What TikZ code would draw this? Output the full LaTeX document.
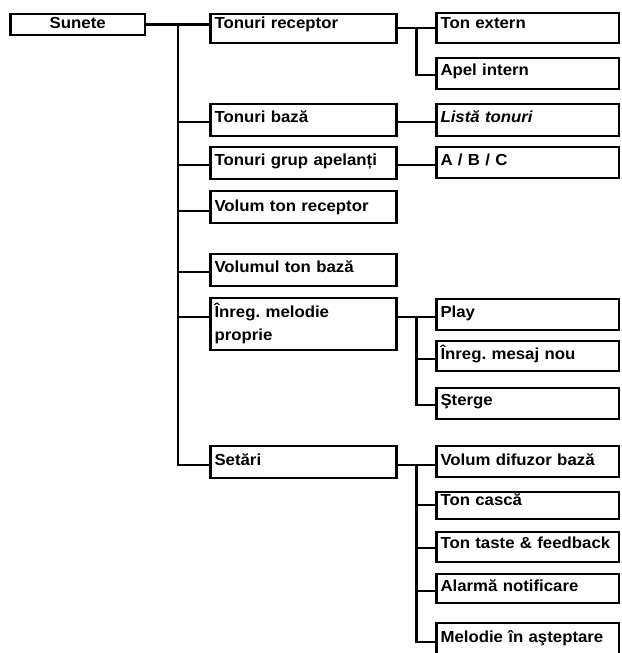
\documentclass[tikz,border=0pt]{standalone}
\usepackage{fontspec}
\setmainfont{Liberation Sans}[FakeStretch=1.05]
\usetikzlibrary{calc}
\frenchspacing

\begin{document}
\begin{tikzpicture}[x=1pt, y=-1pt, line width=2.4pt,
    box/.style={draw, rectangle, anchor=base west, outer sep=0pt,
        inner xsep=4pt, inner ysep=0pt, align=left,
        font=\fontsize{16}{23}\selectfont\bfseries},
    mid/.style={box, text width=178pt},
    leaf/.style={box, text width=174.5pt}]
    \fill[white] (0,0) rectangle (621,653);
    \useasboundingbox (0,0) rectangle (621,653);

    % root
    \node[box, minimum width=134.5pt, align=center, text height=14pt, text depth=7pt] (sunete) at (10.5,28) {Sunete};

    % second column
    \node[mid, text height=14pt, text depth=15pt] (receptor) at (210.5,28) {Tonuri receptor};
    \node[mid, text height=18pt, text depth=14pt] (baza) at (210.5,122) {Tonuri bază};
    \node[mid, text height=18pt, text depth=14pt] (grup) at (210.5,165) {Tonuri grup apelanți};
    \node[mid, text height=20pt, text depth=12pt] (volrec) at (210.5,211) {Volum ton receptor};
    \node[mid, text height=18pt, text depth=14pt] (volbaza) at (210.5,272) {Volumul ton bază};
    \node[mid, text height=19pt, text depth=33pt] (inreg) at (210.5,317) {Înreg. melodie\\proprie};
    \node[mid, text height=19pt, text depth=13pt] (setari) at (210.5,465) {Setări};

    % third column
    \node[leaf, text height=15pt, text depth=15pt] (extern) at (436.5,28) {Ton extern};
    \node[leaf, text height=17pt, text depth=14pt] (apel) at (436.5,75) {Apel intern};
    \node[leaf, text height=18pt, text depth=14pt] (lista) at (436.5,122) {\itshape Listă tonuri};
    \node[leaf, text height=18pt, text depth=13pt] (abc) at (436.5,165) {A / B / C};
    \node[leaf, text height=18pt, text depth=13pt] (play) at (436.5,317) {Play};
    \node[leaf, text height=18pt, text depth=12pt] (mesaj) at (436.5,359) {Înreg. mesaj nou};
    \node[leaf, text height=17pt, text depth=14pt] (sterge) at (436.5,405) {Şterge};
    \node[leaf, text height=19pt, text depth=12pt] (difuzor) at (436.5,465) {Volum difuzor bază};
    \node[leaf, text height=13pt, text depth=14pt] (casca) at (436.5,505) {Ton cască};
    \node[leaf, text height=16pt, text depth=14pt] (taste) at (436.5,548) {Ton taste \& feedback};
    \node[leaf, text height=17pt, text depth=12pt] (alarma) at (436.5,591) {Alarmă notificare};
    \node[leaf, text height=19pt, text depth=18pt] (melodie) at (436.5,642) {Melodie în aşteptare};

    % forks
    \coordinate (fork1) at (178,24.5);
    \coordinate (fork2) at ($(receptor.base east)!.5!(extern.base west)$);
    \coordinate (fork3) at ($(inreg.base east)!.5!(play.base west)$);
    \coordinate (fork4) at ($(setari.base east)!.5!(difuzor.base west)$);

    \draw (sunete.east) -- (sunete.east -| receptor.west);
    \draw (fork1) |- (setari.base west);
    \foreach \n in {baza, grup, volrec, volbaza, inreg} {
        \draw (fork1 |- \n.base west) -- (\n.base west);
    }

    \draw (receptor.base east) -- (extern.base west);
    \draw (fork2) |- (apel.base west);
    \draw (baza.base east) -- (lista.base west);
    \draw (grup.base east) -- (abc.base west);

    \draw (inreg.base east) -- (play.base west);
    \draw (fork3) |- (sterge.base west);
    \draw (fork3 |- mesaj.base west) -- (mesaj.base west);

    \draw (setari.base east) -- (difuzor.base west);
    \draw (fork4) |- (melodie.base west);
    \foreach \n in {casca, taste, alarma} {
        \draw (fork4 |- \n.base west) -- (\n.base west);
    }
\end{tikzpicture}
\end{document}
